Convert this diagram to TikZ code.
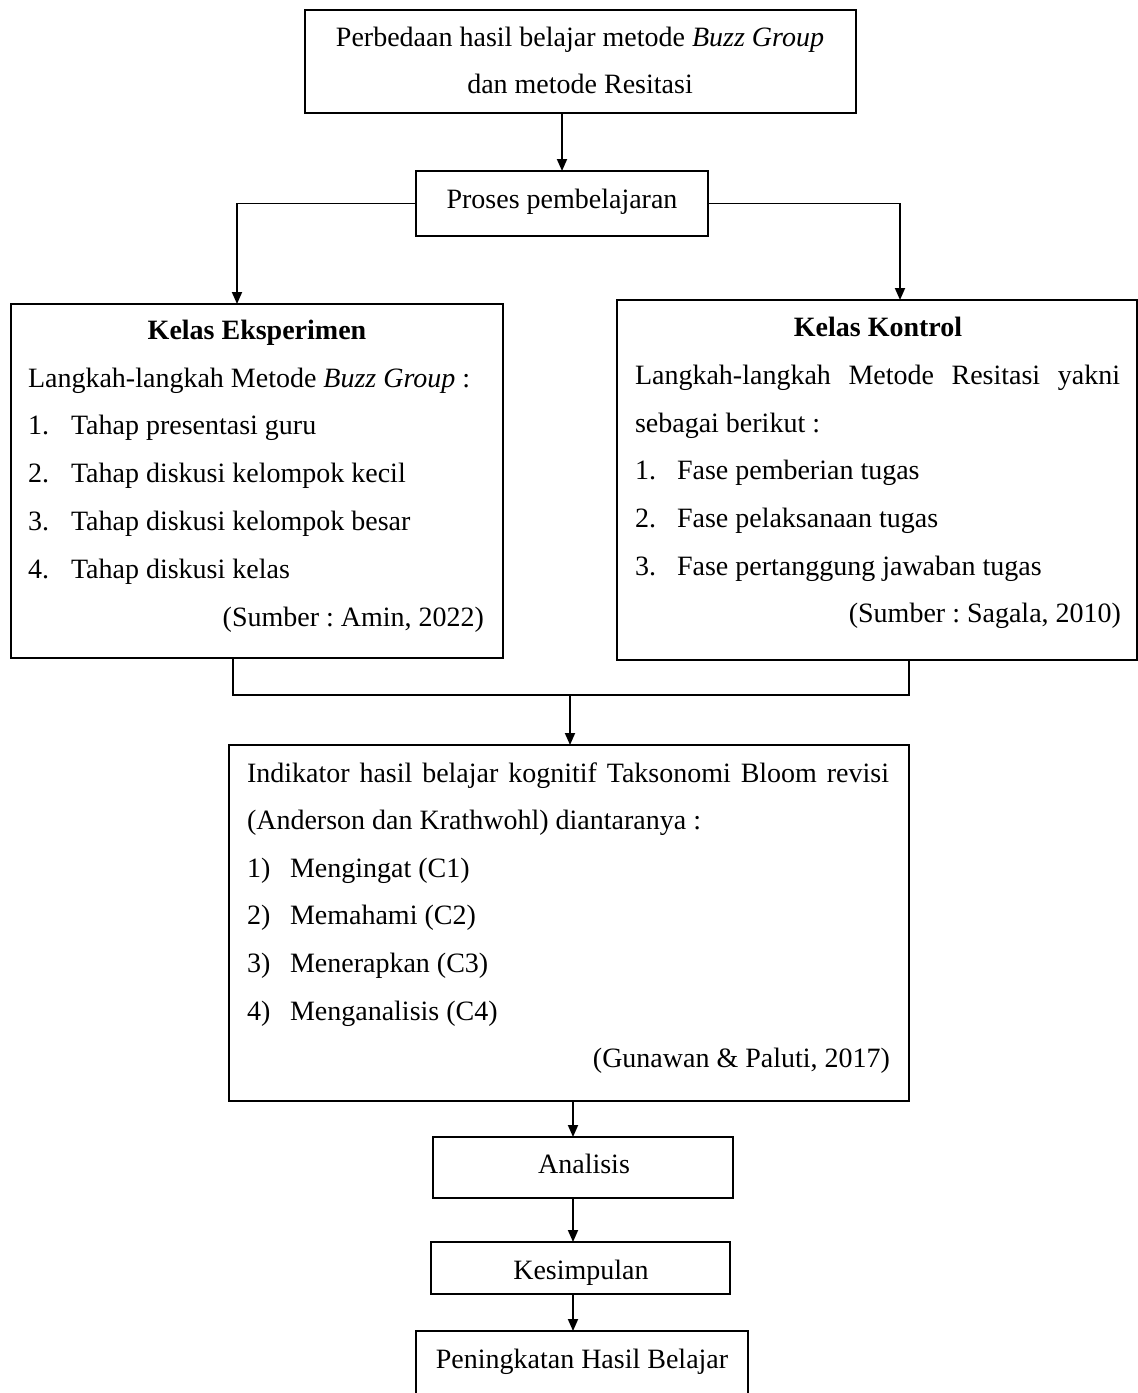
\documentclass[tikz,border=0pt]{standalone}
\usepackage{fontspec}
\setmainfont{Liberation Serif}
\frenchspacing
\usetikzlibrary{arrows.meta}
\tikzset{
  box/.style={draw, line width=0.9pt, inner sep=0pt, outer sep=0pt},
  txt/.style={inner sep=0pt, outer sep=0pt, font=\fontsize{14}{16}\selectfont},
  arr/.style={line width=0.9pt, -{Triangle[length=6pt,width=5pt]}},
  lin/.style={line width=0.9pt}
}
% frame node from corner to corner, in image pixels
\newcommand\boxat[5]{\node[box, minimum width={(#4-#2)*0.5pt}, minimum height={(#5-#3)*0.5pt}] (#1) at ({(#2+#4)/2},{(#3+#5)/2}) {};}

\begin{document}
\begin{tikzpicture}[x=0.5pt, y=-0.5pt]
		%%%%% START %%%%%
		\useasboundingbox (0,0) rectangle (1138,1393);
		
		\boxat{top}{305}{10}{856}{113}
		\node[txt, anchor=base] (top1) at (580,46) {Perbedaan hasil belajar metode \textit{Buzz Group}};
		\node[txt, anchor=base] (top2) at (580,93) {dan metode Resitasi};
		
		\boxat{proses}{416}{171}{708}{236}
		\node[txt, anchor=base] (proses1) at (562,208) {Proses pembelajaran};
		
		%%%%% kelas eksperimen %%%%%
		\boxat{eks}{11}{304}{503}{658}
		\node[txt, anchor=base] (eks0) at (257,339) {\textbf{Kelas Eksperimen}};
		\node[txt, anchor=base west] (eks1) at (28,387) {Langkah-langkah Metode \textit{Buzz Group} :};
		\node[txt, anchor=base west] (eksn1) at (28,434) {1.};
		\node[txt, anchor=base west] (ekst1) at (71,434) {Tahap presentasi guru};
		\node[txt, anchor=base west] (eksn2) at (28,482) {2.};
		\node[txt, anchor=base west] (ekst2) at (71,482) {Tahap diskusi kelompok kecil};
		\node[txt, anchor=base west] (eksn3) at (28,530) {3.};
		\node[txt, anchor=base west] (ekst3) at (71,530) {Tahap diskusi kelompok besar};
		\node[txt, anchor=base west] (eksn4) at (28,578) {4.};
		\node[txt, anchor=base west] (ekst4) at (71,578) {Tahap diskusi kelas};
		\node[txt, anchor=base east] (ekssrc) at (484,626) {(Sumber : Amin, 2022)};
		
		%%%%% kelas kontrol %%%%%
		\boxat{kon}{617}{300}{1137}{660}
		\node[txt, anchor=base] (kon0) at (878,336) {\textbf{Kelas Kontrol}};
		\node[txt, anchor=base west] (kon1) at (635,384) {\makebox[242.5pt][l]{Langkah-langkah\hfill Metode\hfill Resitasi\hfill yakni}};
		\node[txt, anchor=base west] (kon2) at (635,432) {sebagai berikut :};
		\node[txt, anchor=base west] (konn1) at (635,479) {1.};
		\node[txt, anchor=base west] (kont1) at (677,479) {Fase pemberian tugas};
		\node[txt, anchor=base west] (konn2) at (635,527) {2.};
		\node[txt, anchor=base west] (kont2) at (677,527) {Fase pelaksanaan tugas};
		\node[txt, anchor=base west] (konn3) at (635,575) {3.};
		\node[txt, anchor=base west] (kont3) at (677,575) {Fase pertanggung jawaban tugas};
		\node[txt, anchor=base east] (konsrc) at (1121,622) {(Sumber : Sagala, 2010)};
		
		%%%%% indikator %%%%%
		\boxat{ind}{229}{745}{909}{1101}
		\node[txt, anchor=base west] (ind1) at (247,782) {\makebox[321pt][l]{Indikator\hfill hasil\hfill belajar\hfill kognitif\hfill Taksonomi\hfill Bloom\hfill revisi}};
		\node[txt, anchor=base west] (ind2) at (247,829) {(Anderson dan Krathwohl) diantaranya :};
		\node[txt, anchor=base west] (indn1) at (247,877) {1)};
		\node[txt, anchor=base west] (indt1) at (290,877) {Mengingat (C1)};
		\node[txt, anchor=base west] (indn2) at (247,924) {2)};
		\node[txt, anchor=base west] (indt2) at (290,924) {Memahami (C2)};
		\node[txt, anchor=base west] (indn3) at (247,972) {3)};
		\node[txt, anchor=base west] (indt3) at (290,972) {Menerapkan (C3)};
		\node[txt, anchor=base west] (indn4) at (247,1020) {4)};
		\node[txt, anchor=base west] (indt4) at (290,1020) {Menganalisis (C4)};
		\node[txt, anchor=base east] (indsrc) at (890,1067) {(Gunawan \& Paluti, 2017)};
		
		\boxat{ana}{433}{1137}{733}{1198}
		\node[txt, anchor=base] (ana1) at (584,1173) {Analisis};
		\boxat{kes}{431}{1242}{730}{1294}
		\node[txt, anchor=base] (kes1) at (581,1279) {Kesimpulan};
		\boxat{pen}{416}{1331}{748}{1430}
		\node[txt, anchor=base] (pen1) at (582,1368) {Peningkatan Hasil Belajar};
		
		%%%%% connectors %%%%%
		\coordinate (col) at (573,0);
		\coordinate (join) at (570,695);
		\draw[arr] (proses.north |- top.south) -- (proses.north);
		\draw[arr] (proses.west) -| ([xshift=-10pt]eks.north);
		\draw[arr] (proses.east) -| ([xshift=11.5pt]kon.north);
		\draw[lin] ([xshift=-12pt]eks.south) |- (join) -| ([xshift=16pt]kon.south);
		\draw[arr] (join) -- (ind.north -| join);
		\draw[arr] (ind.south -| col) -- (ana.north -| col);
		\draw[arr] (ana.south -| col) -- (kes.north -| col);
		\draw[arr] (kes.south -| col) -- (pen.north -| col);
		%%%%% END %%%%%
\end{tikzpicture}
\end{document}
